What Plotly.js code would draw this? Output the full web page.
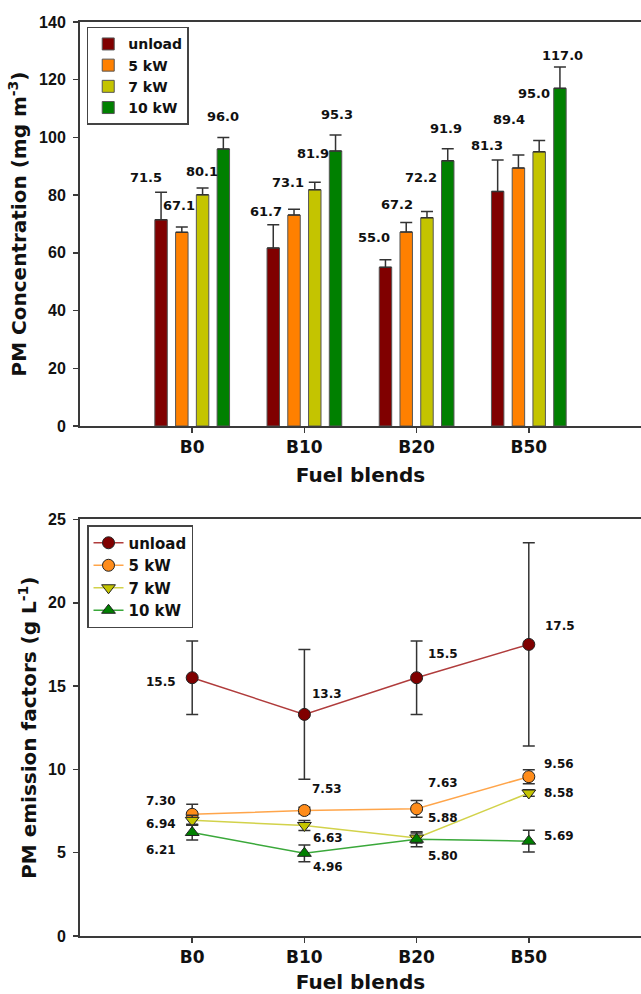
<!DOCTYPE html>
<html><head><meta charset="utf-8">
<script src="https://cdn.plot.ly/plotly-3.0.1.min.js"></script>
<style>html,body{margin:0;padding:0;background:#fff}#chart{width:641px;height:994px}</style>
</head><body><div id="chart"></div><script>
// ---------- data ----------
const categories = ['B0', 'B10', 'B20', 'B50'];
const seriesNames = ['unload', '5 kW', '7 kW', '10 kW'];

// PM concentration (mg m-3)
const concUnload = [71.5, 61.7, 55.0, 81.3];
const conc5kW    = [67.1, 73.1, 67.2, 89.4];
const conc7kW    = [80.1, 81.9, 72.2, 95.0];
const conc10kW   = [96.0, 95.3, 91.9, 117.0];
const concErrUnload = [9.5, 8.0, 2.6, 10.9];
const concErr5kW    = [1.9, 2.0, 3.3, 4.5];
const concErr7kW    = [2.4, 2.6, 2.1, 3.9];
const concErr10kW   = [4.0, 5.5, 4.2, 7.4];

// PM emission factors (g L-1)
const efUnload = [15.5, 13.3, 15.5, 17.5];
const ef5kW    = [7.30, 7.53, 7.63, 9.56];
const ef7kW    = [6.94, 6.63, 5.88, 8.58];
const ef10kW   = [6.21, 4.96, 5.80, 5.69];
const efErrUnload = [2.2, 3.9, 2.2, 6.1];
const efErr5kW    = [0.6, 0.2, 0.5, 0.42];
const efErr7kW    = [0.3, 0.3, 0.3, 0.2];
const efErr10kW   = [0.45, 0.5, 0.45, 0.65];

const concTicks = [0, 20, 40, 60, 80, 100, 120, 140];
const efTicks = [0, 5, 10, 15, 20, 25];

// ---------- style ----------
const barColors = ['#800000', '#ff8000', '#c4c400', '#008000'];
const lineColors = ['#b03c3c', '#ffa54a', '#d2d24a', '#3aa83a'];
const markerFills = ['#800000', '#ff8c1a', '#c4c400', '#008000'];
const markerSymbols = ['circle', 'circle', 'triangle-down', 'triangle-up'];
const axisColor = '#3a3a3a';
const txt = '#111';
const boldDV = (s) => ({family: 'DejaVu Sans', size: s, color: txt, weight: 'bold'});
const boldLS = (s) => ({family: 'Liberation Sans, Arial', size: s, color: txt, weight: 'bold'});

// label offsets (px) : top chart relative to group centre / bar top
const barLabelDx = [[-46, -38, -43, -42], [-13, -16, -20, -20], [10, 9, 4, 5], [31, 33, 29, 34]];
const barLabelDy = [[42, 36, 30, 46], [27, 33, 28, 49], [23, 36, 40, 58], [32, 36, 32, 33]];
// bottom chart relative to point
const efLabelDx = [[-31, 23, 26, 31], [-31, 23, 26, 30], [-31, 24, 26, 30], [-31, 24, 26, 30]];
const efLabelDy = [[-4, 20, 24, 18], [13, 22, 26, 13], [-4, -13, 20, 0], [-18, -14, -17, 5]];

const concSeries = [concUnload, conc5kW, conc7kW, conc10kW];
const concErrs = [concErrUnload, concErr5kW, concErr7kW, concErr10kW];
const efSeries = [efUnload, ef5kW, ef7kW, ef10kW];
const efErrs = [efErrUnload, efErr5kW, efErr7kW, efErr10kW];

const traces = [];
concSeries.forEach((vals, s) => {
  traces.push({
    type: 'bar', name: seriesNames[s], x: categories, y: vals,
    xaxis: 'x', yaxis: 'y', legend: 'legend',
    marker: {color: barColors[s], line: {color: '#555', width: 1}},
    error_y: {type: 'data', symmetric: false, array: concErrs[s], arrayminus: concErrs[s].map(() => 0),
              color: '#333', thickness: 1.5, width: 6},
    hoverinfo: 'skip'
  });
});
efSeries.forEach((vals, s) => {
  traces.push({
    type: 'scatter', mode: 'lines+markers', name: seriesNames[s], x: categories, y: vals,
    xaxis: 'x2', yaxis: 'y2', legend: 'legend2',
    line: {color: lineColors[s], width: 1.5},
    marker: {symbol: markerSymbols[s], size: 12, color: markerFills[s], line: {color: '#222', width: 1}},
    error_y: {type: 'data', array: efErrs[s], color: '#333', thickness: 1.5, width: 6},
    hoverinfo: 'skip'
  });
});

const annotations = [];
concSeries.forEach((vals, s) => {
  vals.forEach((v, i) => annotations.push({
    xref: 'x', yref: 'y', x: categories[i], y: v, xshift: barLabelDx[s][i], yshift: barLabelDy[s][i],
    text: v.toFixed(1), showarrow: false, font: boldDV(13), xanchor: 'center', yanchor: 'middle'
  }));
});
efSeries.forEach((vals, s) => {
  vals.forEach((v, i) => annotations.push({
    xref: 'x2', yref: 'y2', x: categories[i], y: v, xshift: efLabelDx[s][i], yshift: efLabelDy[s][i],
    text: s === 0 ? v.toFixed(1) : v.toFixed(2), showarrow: false, font: boldDV(12), xanchor: 'center', yanchor: 'middle'
  }));
});

const xBase = {
  type: 'category', categoryorder: 'array', categoryarray: categories, range: [-1, 4],
  showline: true, linecolor: axisColor, linewidth: 2, mirror: true,
  ticks: 'outside', ticklen: 5, tickwidth: 1.5, tickcolor: axisColor,
  tickfont: boldDV(17), showgrid: false, zeroline: false, fixedrange: true, automargin: false
};
const yBase = {
  showline: true, linecolor: axisColor, linewidth: 2, mirror: false,
  ticks: 'outside', ticklen: 5, tickwidth: 1.5, tickcolor: axisColor,
  tickfont: boldLS(16), showgrid: false, zeroline: false, fixedrange: true, automargin: false,
  ticklabelstandoff: 4
};

const layout = {
  width: 641, height: 994,
  margin: {l: 80, r: 0, t: 0, b: 0},
  paper_bgcolor: '#fff', plot_bgcolor: '#fff',
  barmode: 'group', bargap: 0.26, bargroupgap: 0.4,
  xaxis: Object.assign({}, xBase, {anchor: 'y', title: {text: 'Fuel blends', font: boldDV(20), standoff: 12}}),
  yaxis: Object.assign({}, yBase, {domain: [0.5714, 0.9779], range: [0, 140], tickvals: concTicks,
    title: {text: 'PM Concentration (mg m<sup>-3</sup>)', font: boldDV(20), standoff: 7}}),
  xaxis2: Object.assign({}, xBase, {anchor: 'y2', title: {text: 'Fuel blends', font: boldDV(20), standoff: 14}}),
  yaxis2: Object.assign({}, yBase, {domain: [0.0584, 0.4774], range: [0, 25], tickvals: efTicks,
    title: {text: 'PM emission factors (g L<sup>-1</sup>)', font: boldDV(20), standoff: 6}}),
  legend: {x: 0.012, y: 0.973, xanchor: 'left', yanchor: 'top', bgcolor: '#fff',
    bordercolor: '#444', borderwidth: 1.5, font: boldDV(14), tracegroupgap: 0, traceorder: 'normal'},
  legend2: {x: 0.0125, y: 0.4718, xanchor: 'left', yanchor: 'top', bgcolor: '#fff',
    bordercolor: '#444', borderwidth: 1.5, font: boldDV(15), tracegroupgap: 0, traceorder: 'normal'},
  annotations: annotations,
  showlegend: true
};

Plotly.newPlot('chart', traces, layout, {displayModeBar: false, staticPlot: true});
</script></body></html>
